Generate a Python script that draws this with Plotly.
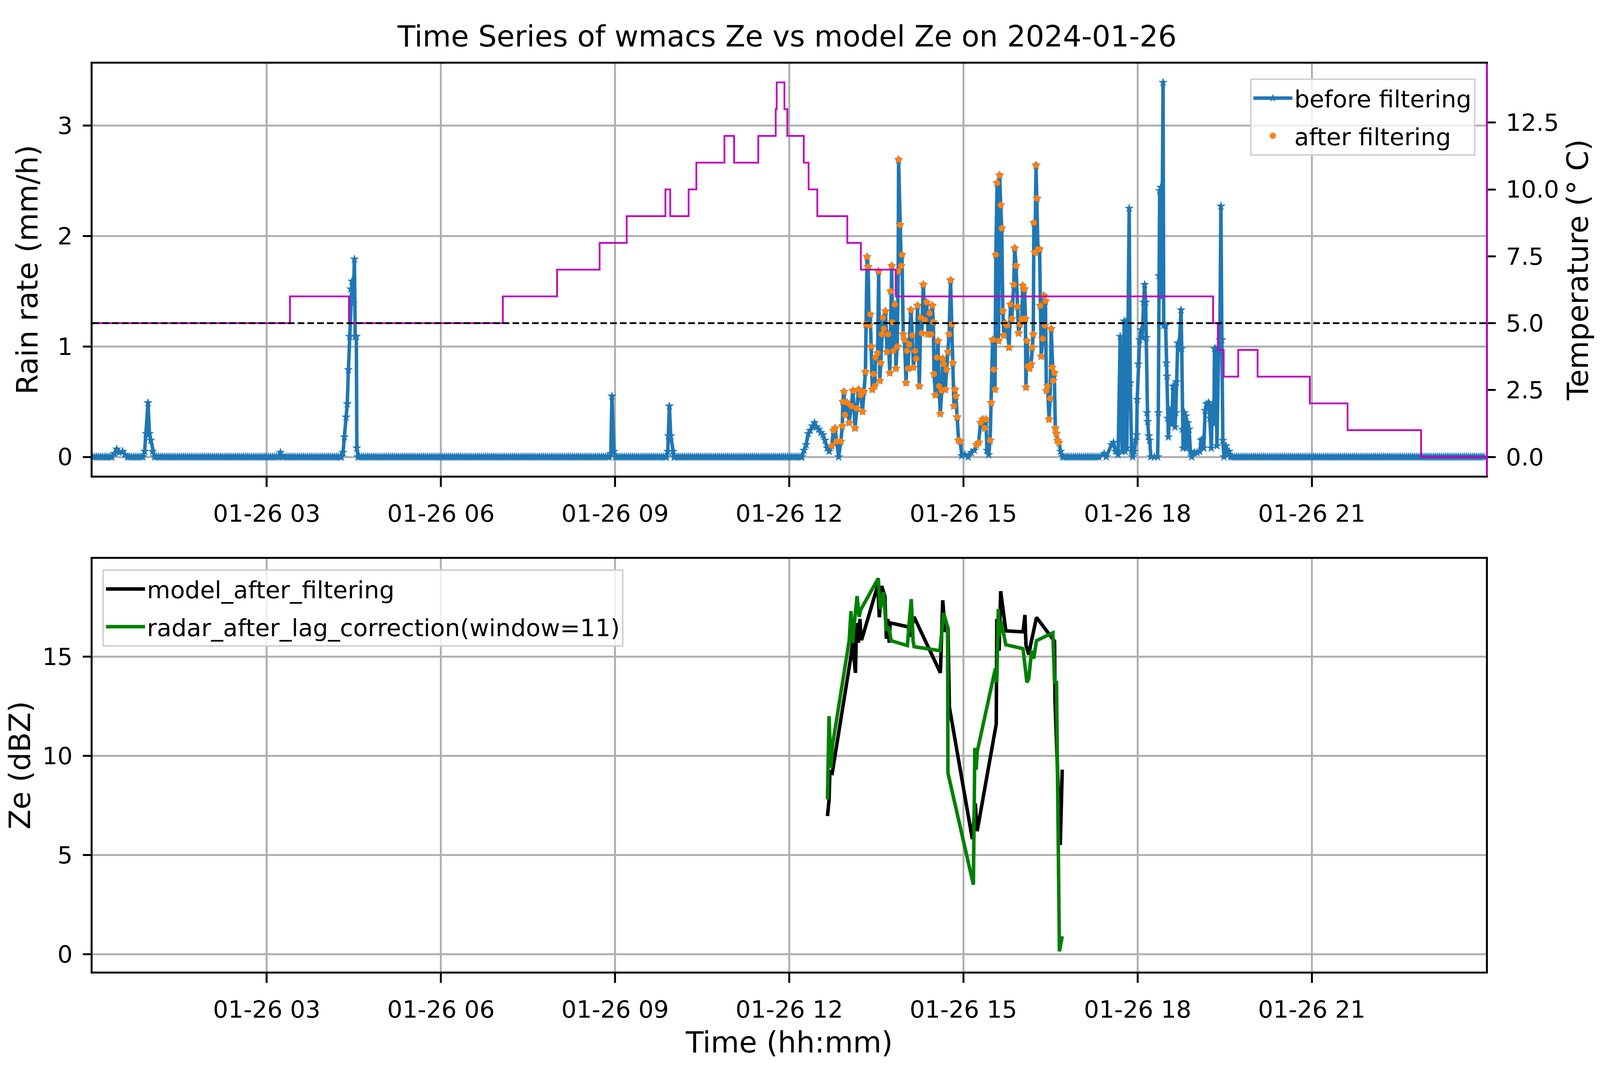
import pandas as pd
import plotly.graph_objects as go
from plotly.subplots import make_subplots

FONT = "DejaVu Sans"
day = pd.Timestamp("2024-01-26")

# rain rate (mm/h), times in minutes after midnight
spike_0030_t = [20.0, 22.5, 25.0, 27.4, 31.1, 33.6, 36.0]
spike_0030_v = [0.00, 0.03, 0.07, 0.04, 0.05, 0.02, 0.00]
spike_0100_t = [52.0, 53.8, 55.3, 57.3, 58.8, 60.2, 62.0, 64.0]
spike_0100_v = [0.00, 0.05, 0.21, 0.49, 0.21, 0.15, 0.05, 0.00]
blip_0315_t = [192.0, 194.1, 196.0]
blip_0315_v = [0.00, 0.04, 0.00]
spike_0430_t = [257.0, 258.8, 260.2, 262.0, 263.2, 264.4, 265.7, 266.9,
                268.1, 269.4, 270.6, 271.4, 272.6, 273.1, 274.3]
spike_0430_v = [0.00, 0.04, 0.18, 0.36, 0.48, 0.79, 1.09, 1.52,
                1.59, 1.39, 1.79, 1.09, 1.09, 0.08, 0.00]
spike_0900_t = [534.0, 535.6, 536.7, 538.9, 540.5]
spike_0900_v = [0.00, 0.03, 0.55, 0.05, 0.00]
spike_1000_t = [593.0, 594.4, 595.1, 596.1, 597.5, 599.8, 601.0]
spike_1000_v = [0.00, 0.05, 0.19, 0.46, 0.19, 0.05, 0.00]

storm_t = [733.0, 735.2, 737.4, 739.6, 741.7, 743.9, 746.1, 748.3, 750.4, 752.6,
           754.8, 757.0, 759.1, 761.3, 763.9, 765.7, 767.4, 768.9, 771.1, 773.3,
           774.8, 775.4, 776.5, 777.6, 779.8, 782.0, 784.1, 785.9, 788.0, 789.6,
           791.7, 793.9, 795.7, 797.2, 798.7, 799.4, 800.4, 801.5, 802.6, 803.7,
           804.8, 805.9, 807.0, 808.3, 809.1, 811.3, 812.4, 813.5, 814.6, 815.7,
           816.7, 817.8, 819.4, 821.1, 822.2, 823.9, 824.8, 825.9, 826.5, 827.6,
           829.1, 830.2, 831.5, 832.6, 833.0, 834.4, 835.7, 836.5, 837.8, 839.1,
           840.7, 841.7, 842.8, 843.9, 845.7, 847.2, 848.3, 850.0, 851.1, 852.6,
           854.4, 855.9, 857.0, 858.5, 860.2, 862.0, 863.5, 865.0, 866.7, 867.8,
           868.9, 869.6, 871.1, 872.6, 873.7, 874.8, 876.1, 877.6, 878.7, 879.8,
           881.3, 882.6, 884.1, 885.2, 886.7, 888.0, 889.1, 890.2, 891.3, 892.2,
           893.5, 895.0, 896.7, 898.3, 901.5, 904.8, 908.0, 911.3, 913.5, 915.7,
           917.8, 920.0, 922.2, 923.3, 924.3, 926.1, 927.6, 928.7, 930.2, 931.3,
           932.6, 933.5, 934.8, 936.3, 937.4, 938.5, 939.6, 940.7, 941.7, 943.3,
           945.0, 947.2, 948.7, 950.0, 952.0, 953.0, 954.4, 955.9, 957.0, 958.5,
           960.2, 961.3, 963.1, 964.1, 964.6, 965.7, 966.7, 968.3, 970.0, 971.1,
           972.2, 972.8, 973.9, 975.0, 976.1, 977.0, 978.7, 979.4, 980.4, 982.0,
           983.1, 984.1, 984.8, 985.7, 987.0, 988.5, 989.6, 990.7, 991.7, 992.8,
           993.9, 995.0, 996.1, 997.2, 998.7, 1000.4, 1002.6]
storm_v = [0.00, 0.06, 0.11, 0.21, 0.24, 0.28, 0.31, 0.27, 0.25, 0.22,
           0.20, 0.15, 0.08, 0.05, 0.10, 0.24, 0.26, 0.14, 0.00, 0.14,
           0.28, 0.50, 0.59, 0.38, 0.49, 0.31, 0.46, 0.60, 0.26, 0.44,
           0.61, 0.56, 0.41, 0.59, 0.77, 1.20, 1.81, 1.72, 1.19, 1.29,
           1.00, 0.61, 0.75, 0.64, 0.90, 0.94, 1.68, 0.69, 0.85, 1.11,
           1.26, 1.16, 1.32, 0.95, 1.11, 0.76, 1.50, 1.73, 1.22, 0.96,
           1.38, 0.80, 1.00, 1.68, 2.69, 2.10, 1.73, 1.83, 1.11, 1.06,
           0.67, 0.96, 0.80, 1.02, 1.33, 1.10, 0.81, 0.96, 0.89, 1.37,
           0.64, 1.26, 1.12, 1.56, 1.24, 1.40, 1.11, 1.30, 1.11, 1.37,
           1.22, 0.75, 0.56, 0.90, 1.05, 0.64, 0.39, 0.60, 0.89, 0.84,
           0.61, 0.79, 0.95, 1.11, 1.60, 1.20, 0.85, 0.46, 0.61, 0.55,
           0.36, 0.15, 0.14, 0.01, 0.02, 0.00, 0.04, 0.06, 0.11, 0.13,
           0.31, 0.34, 0.26, 0.34, 0.06, 0.02, 0.15, 0.49, 1.06, 0.79,
           0.61, 1.83, 2.48, 1.05, 2.55, 2.28, 2.07, 1.32, 1.10, 1.21,
           1.19, 0.99, 1.38, 1.25, 1.56, 1.89, 1.73, 1.36, 1.12, 1.20,
           1.25, 1.55, 1.52, 1.25, 0.63, 1.05, 0.82, 0.80, 0.84, 0.99,
           1.11, 2.12, 1.85, 2.64, 2.34, 1.88, 1.88, 1.37, 0.91, 1.07,
           1.46, 1.19, 1.41, 0.60, 0.64, 0.34, 0.53, 1.16, 0.81, 0.69,
           0.76, 0.26, 0.21, 0.15, 0.13, 0.05, 0.00]

late_t = [1040.0, 1045.4, 1047.5, 1053.0, 1055.1, 1057.2, 1059.9, 1062.0, 1064.1, 1066.2,
          1067.1, 1068.0, 1068.9, 1071.3, 1072.4, 1073.8, 1074.9, 1076.5, 1077.9, 1079.0,
          1079.6, 1080.7, 1082.1, 1083.5, 1084.8, 1086.2, 1087.3, 1088.3, 1089.0, 1089.7,
          1090.4, 1091.5, 1092.4, 1093.8, 1097.3, 1100.7, 1101.4, 1102.1, 1102.8, 1103.9,
          1104.9, 1106.3, 1107.0, 1109.0, 1109.7, 1110.4, 1111.1, 1111.8, 1113.2, 1114.6,
          1115.3, 1116.6, 1118.0, 1118.7, 1119.4, 1120.1, 1121.5, 1122.9, 1124.9, 1125.6,
          1126.3, 1127.0, 1128.4, 1129.8, 1130.5, 1131.9, 1133.2, 1134.6, 1136.0, 1138.8,
          1141.5, 1144.3, 1145.7, 1147.1, 1148.4, 1149.8, 1151.2, 1153.3, 1154.7, 1156.1,
          1157.4, 1158.8, 1159.5, 1160.9, 1162.0, 1163.7, 1165.0, 1166.1, 1167.1, 1168.1,
          1169.2, 1171.3, 1173.3, 1174.7, 1176.1]
late_v = [0.00, 0.03, 0.00, 0.11, 0.13, 0.05, 0.02, 1.09, 0.05, 1.23,
          0.05, 1.22, 0.08, 2.25, 0.67, 0.05, 0.00, 0.05, 0.15, 0.20,
          0.52, 0.84, 1.06, 1.15, 1.08, 1.40, 1.56, 1.40, 1.08, 0.40,
          0.32, 0.19, 0.15, 0.00, 0.00, 0.00, 0.40, 1.64, 2.41, 2.44,
          1.45, 3.39, 1.19, 1.19, 0.85, 0.73, 0.35, 0.18, 0.42, 0.42,
          0.30, 0.64, 0.64, 0.27, 0.40, 0.68, 1.03, 0.98, 1.33, 0.98,
          0.25, 0.08, 0.40, 0.37, 0.08, 0.31, 0.25, 0.05, 0.00, 0.04,
          0.04, 0.05, 0.15, 0.16, 0.08, 0.42, 0.48, 0.49, 0.35, 0.08,
          0.47, 0.30, 0.98, 0.98, 0.10, 0.98, 1.06, 2.27, 1.06, 0.15,
          0.00, 0.10, 0.02, 0.05, 0.00]

baseline_step = 2  # dry stretches: a zero reading every 2 min

# window / threshold that the orange "after filtering" points pass
filter_start = 763
filter_end = 1000
filter_min_rate = 0.1

# temperature (deg C), value holds from each change time
temp_t = [0, 204, 265, 424, 480, 524, 552, 592, 597, 616, 624, 653, 663, 688, 706, 707, 715,
          718, 735, 740, 749, 780, 794, 830, 1158, 1163, 1169, 1184, 1204, 1258, 1297, 1373, 1439]
temp_v = [5, 6, 5, 6, 7, 8, 9, 10, 9, 10, 11, 12, 11, 12, 13, 14, 13,
          12, 11, 10, 9, 8, 7, 6, 5, 4, 3, 4, 3, 2, 1, 0, 0]
temp_threshold = 5.0

# Ze (dBZ)
model_t = [759.5, 761.1, 762.0, 764.4, 783.6, 785.4, 788.4, 789.6, 791.5, 793.1,
           794.1, 795.1, 811.5, 813.1, 815.5, 817.4, 818.8, 820.4, 822.0, 823.3,
           824.3, 843.1, 844.1, 849.0, 876.2, 878.6, 881.2, 884.0, 885.5, 909.2,
           912.2, 914.2, 933.9, 934.5, 936.9, 938.5, 943.8, 961.6, 963.6, 964.6,
           967.5, 969.5, 971.5, 975.5, 994.2, 994.6, 1000.1, 1002.1]
model_v = [6.96, 7.75, 9.20, 9.13, 14.97, 15.70, 14.18, 16.70, 15.70, 16.90,
           15.90, 15.90, 18.60, 16.98, 18.56, 18.30, 18.06, 15.90, 16.90, 15.70,
           16.70, 16.50, 16.00, 17.00, 14.18, 17.84, 16.25, 16.50, 12.45, 5.80,
           7.60, 6.20, 11.60, 16.90, 15.30, 18.30, 16.30, 16.25, 17.10, 15.60,
           15.10, 15.60, 16.05, 16.98, 15.77, 12.80, 5.50, 9.30]
radar_t = [759.5, 761.1, 763.1, 764.6, 781.9, 783.8, 785.2, 786.8, 790.1, 792.3,
           793.7, 812.0, 814.0, 817.4, 820.4, 822.0, 823.3, 825.3, 842.1, 844.1,
           846.1, 848.0, 849.0, 875.7, 879.6, 883.6, 884.0, 910.3, 911.8, 913.2,
           914.2, 933.0, 934.5, 936.0, 936.9, 938.9, 941.9, 943.8, 961.6, 965.6,
           967.5, 970.5, 972.6, 975.5, 992.4, 994.2, 996.2, 999.2, 1002.1]
radar_v = [7.80, 12.00, 9.40, 10.50, 15.80, 17.30, 15.70, 16.50, 18.05, 17.00,
           17.35, 18.95, 17.40, 18.25, 16.30, 16.50, 16.40, 15.80, 15.56, 16.80,
           17.90, 15.80, 15.50, 15.30, 17.20, 16.50, 9.13, 3.50, 10.40, 9.30,
           10.20, 14.40, 13.70, 17.40, 16.00, 16.80, 15.90, 15.60, 15.40, 13.70,
           13.90, 15.30, 14.90, 15.80, 16.20, 13.70, 13.70, 0.14, 0.90]

tick_hours = [3, 6, 9, 12, 15, 18, 21]

# the page viewport comes out about 4096 css px wide and 2740 tall, so the figure
# fills that; horizontal sizes are reference pixels * kx, text is scaled by f
W, H = 4096, 2740
kx = W / 5307
f = 0.9


def to_time(minutes):
    return day + pd.to_timedelta(pd.Series(minutes, dtype=float), unit="min")


events = [(spike_0030_t, spike_0030_v), (spike_0100_t, spike_0100_v),
          (blip_0315_t, blip_0315_v), (spike_0430_t, spike_0430_v),
          (spike_0900_t, spike_0900_v), (spike_1000_t, spike_1000_v),
          (storm_t, storm_v), (late_t, late_v)]

rows = []
for m in range(0, 1440, baseline_step):
    if not any(t[0] <= m <= t[-1] for t, _ in events):
        rows.append((float(m), 0.0))
for t, v in events:
    rows += list(zip(t, v))
rain = pd.DataFrame(rows, columns=["t", "v"]).sort_values("t").reset_index(drop=True)
rain["time"] = to_time(rain["t"]).values

filt = rain[(rain.t >= filter_start) & (rain.t <= filter_end) & (rain.v >= filter_min_rate)]

fig = make_subplots(rows=2, cols=1, specs=[[{"secondary_y": True}], [{}]])

fig.add_trace(go.Scatter(x=rain["time"], y=rain["v"], mode="lines+markers", name="before filtering",
                         line=dict(color="#1f77b4", width=9),
                         marker=dict(symbol="star", size=18, color="#1f77b4", line=dict(width=0)),
                         legend="legend", legendgroup="a"), row=1, col=1, secondary_y=False)
fig.add_trace(go.Scatter(x=filt["time"], y=filt["v"], mode="markers", name="after filtering",
                         marker=dict(size=16, color="#ff7f0e", line=dict(width=0)),
                         legend="legend", legendgroup="b"), row=1, col=1, secondary_y=False)
fig.add_trace(go.Scatter(x=to_time(temp_t), y=temp_v, mode="lines", line_shape="hv",
                         line=dict(color="#bf00bf", width=4.5), showlegend=False),
              row=1, col=1, secondary_y=True)
fig.add_hline(y=temp_threshold, row=1, col=1, secondary_y=True,
              line=dict(color="black", width=4.5, dash="17px,8px"))

fig.add_trace(go.Scatter(x=to_time(model_t), y=model_v, mode="lines", name="model_after_filtering",
                         line=dict(color="black", width=9), legend="legend2", legendgroup="c"),
              row=2, col=1)
fig.add_trace(go.Scatter(x=to_time(radar_t), y=radar_v, mode="lines",
                         name="radar_after_lag_correction(window=11)",
                         line=dict(color="#008000", width=9), legend="legend2", legendgroup="d"),
              row=2, col=1)

tick_font = dict(family=FONT, size=68 * f, color="black")
label_font = dict(family=FONT, size=83 * f, color="black")
x_range = [day, day + pd.Timedelta(days=1)]
tick_vals = [day + pd.Timedelta(hours=h) for h in tick_hours]

xstyle = dict(type="date", range=x_range, tickvals=tick_vals, tickformat="%m-%d %H",
              showgrid=True, gridcolor="#b0b0b0", gridwidth=4.5, zeroline=False,
              showline=True, linecolor="black", linewidth=4.5, mirror=True,
              ticks="outside", ticklen=24, tickwidth=4.5, tickcolor="black",
              tickfont=tick_font, ticklabelstandoff=16, automargin=False)
ystyle = dict(showgrid=True, gridcolor="#b0b0b0", gridwidth=4.5, zeroline=False,
              showline=True, linecolor="black", linewidth=4.5,
              ticks="outside", ticklen=20, tickwidth=4.5, tickcolor="black",
              tickfont=tick_font, ticklabelstandoff=14, automargin=False)
legend_style = dict(bgcolor="rgba(255,255,255,0.8)", bordercolor="#d0d0d0", borderwidth=4,
                    font=dict(family=FONT, size=68 * f, color="black"), itemwidth=100,
                    tracegroupgap=14)

fig.update_layout(
    width=W, height=H,
    margin=dict(l=297 * kx, r=300, t=155, b=260, autoexpand=False),
    plot_bgcolor="white", paper_bgcolor="white",
    font=dict(family=FONT, size=68 * f, color="black"),
    title=dict(text="Time Series of wmacs Ze vs model Ze on 2024-01-26", font=label_font,
               x=0.49, xanchor="center", y=0.969, yanchor="middle"),
    xaxis=dict(xstyle, domain=[0, 1], anchor="y"),
    yaxis=dict(ystyle, domain=[0.5462, 1], range=[-0.17, 3.56], tick0=0, dtick=1,
               title=dict(text="Rain rate (mm/h)", font=label_font, standoff=36 * kx)),
    yaxis2=dict(ystyle, showgrid=False, linecolor="#bf00bf", side="right", overlaying="y",
                range=[-0.7, 14.7], tick0=0, dtick=2.5, tickformat=".1f",
                title=dict(text="Temperature (° C)", font=label_font, standoff=24)),
    xaxis2=dict(xstyle, domain=[0, 1], anchor="y3",
                title=dict(text="Time (hh:mm)", font=label_font, standoff=25)),
    yaxis3=dict(ystyle, mirror=True, domain=[0, 0.4546], range=[-0.88, 19.93], tick0=0, dtick=5,
                title=dict(text="Ze (dBZ)", font=label_font, standoff=36 * kx)),
    legend=dict(legend_style, x=0.9923, y=0.9837, xanchor="right", yanchor="top"),
    legend2=dict(legend_style, x=0.0071, y=0.443, xanchor="left", yanchor="top"),
)

fig.write_html("out.html")
